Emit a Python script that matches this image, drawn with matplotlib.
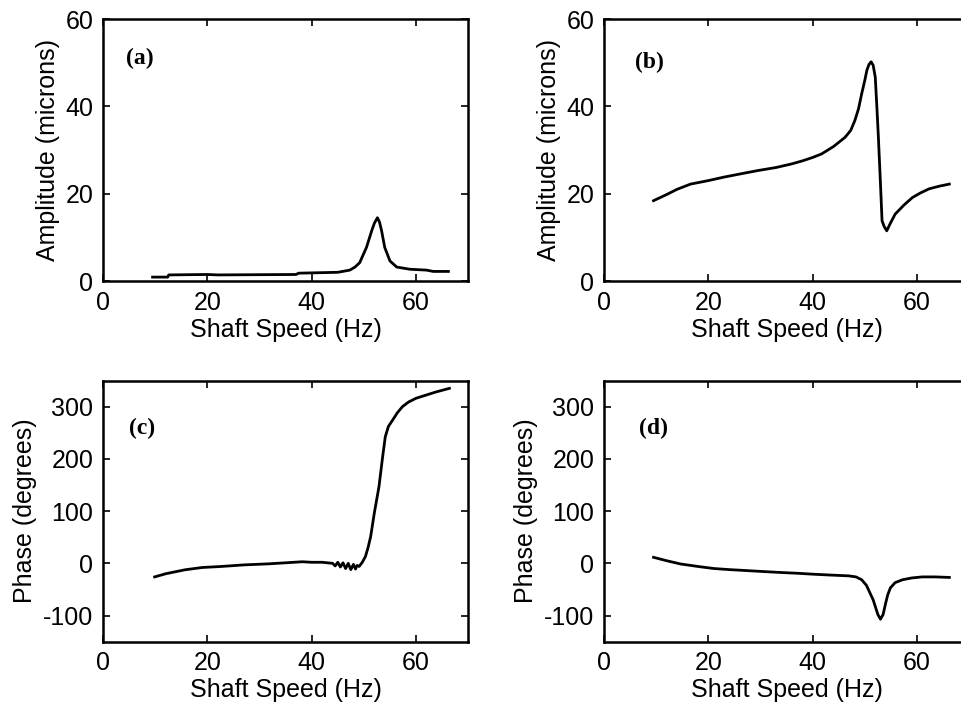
import matplotlib.pyplot as plt

# Shaft speed sweeps
a_speed = [9.5, 12.4, 12.6, 20, 22, 37, 37.5, 45, 47.3, 48.3, 49.2, 50.5, 51.5, 52.0,
           52.6, 53.0, 53.4, 54.0, 55.0, 56.3, 58.8, 62, 63.3, 66.2]
a_amp = [0.9, 0.9, 1.4, 1.5, 1.4, 1.5, 1.8, 2.0, 2.5, 3.2, 4.2, 7.7, 11.5, 13.2,
         14.5, 13.5, 11.5, 7.7, 4.6, 3.2, 2.7, 2.5, 2.2, 2.2]

b_speed = [9.5, 12, 14, 16.6, 20, 23, 26, 29.5, 33, 35.9, 38, 40, 41.7, 44, 46.2, 47.3,
           48.1, 48.8, 49.4, 50.0, 50.4, 50.8, 51.2, 51.6, 52.0, 52.3, 52.6, 53.0, 53.3,
           53.7, 54.2, 54.8, 55.8, 57.5, 59.1, 60.7, 62.3, 64.2, 66.2]
b_amp = [18.4, 19.8, 21.0, 22.2, 23.0, 23.8, 24.5, 25.3, 26.0, 26.8, 27.5, 28.3, 29.1,
         30.8, 32.9, 34.5, 36.8, 39.5, 42.9, 46.0, 48.3, 49.6, 50.2, 49.4, 46.7, 40,
         32.9, 22.2, 13.8, 12.5, 11.5, 13.0, 15.3, 17.4, 19.1, 20.2, 21.1, 21.7, 22.2]

c_speed = [9.9, 12, 15.7, 19, 22.7, 27, 31.7, 35, 38.2, 40, 42, 44, 44.5, 45, 45.5, 46,
           46.5, 47, 47.5, 48, 48.4, 48.7, 49.1, 49.7, 50.3, 50.8, 51.3, 52.0, 52.9, 53.6,
           54.1, 54.7, 55.5, 56.4, 57.4, 58.6, 60.0, 61.9, 63.8, 66.4]
c_phase = [-26, -20, -12.4, -8, -6, -3, -1, 1, 3, 2, 2, 0, -5, 2, -7, 1, -10, 0, -12, -2,
           -11, -4, -6, 2, 13, 30, 51, 96, 147, 204, 242, 262, 274, 288, 300, 309, 316,
           322, 328, 335]

d_speed = [9.5, 12, 14.7, 18, 21.1, 24, 27.5, 31, 34, 37, 40.4, 43.5, 46.9, 48.3, 49.4,
           50.3, 51.0, 51.6, 52.0, 52.5, 53.0, 53.5, 54.0, 54.4, 54.9, 55.8, 57.2, 59,
           61.0, 63.5, 66.2]
d_phase = [11.5, 5, -1.3, -6, -10, -12, -14, -16, -17.6, -19, -21, -22.5, -24, -26, -31.5,
           -42, -57, -70, -82.6, -98, -107, -98, -76, -60, -47, -37, -31.5, -28, -26, -26, -27]

panels = [
    ('(a)', a_speed, a_amp, 'amp', (4.5, 51)),
    ('(b)', b_speed, b_amp, 'amp', (6.0, 50)),
    ('(c)', c_speed, c_phase, 'phase', (5.0, 258)),
    ('(d)', d_speed, d_phase, 'phase', (6.7, 258)),
]

# axes boxes in figure fractions (right column runs past the edge as in the scan)
positions = [
    [0.1072, 0.6025, 0.380, 0.3706],
    [0.6285, 0.6025, 0.380, 0.3706],
    [0.1072, 0.0924, 0.380, 0.3694],
    [0.6285, 0.0924, 0.380, 0.3694],
]

plt.rcParams['font.family'] = ['Liberation Sans', 'DejaVu Sans']
plt.rcParams['axes.unicode_minus'] = False
fig = plt.figure(figsize=(9.61, 7.07), dpi=100)

for (tag, xs, ys, kind, lab_pos), pos in zip(panels, positions):
    ax = fig.add_axes(pos)
    ax.plot(xs, ys, color='black', linewidth=2.0)
    ax.set_xlim(0, 70)
    ax.set_xticks([0, 20, 40, 60])
    if kind == 'amp':
        ax.set_ylim(0, 60)
        ax.set_yticks([0, 20, 40, 60])
        ax.set_ylabel('Amplitude (microns)', fontsize=18, labelpad=4)
    else:
        ax.set_ylim(-150, 350)
        ax.set_yticks([-100, 0, 100, 200, 300])
        ax.set_ylabel('Phase (degrees)', fontsize=18, labelpad=4)
    ax.set_xlabel('Shaft Speed (Hz)', fontsize=18, labelpad=2)
    ax.tick_params(direction='in', top=True, right=True, length=5, width=1.2,
                   labelsize=18, pad=7)
    for sp in ax.spines.values():
        sp.set_linewidth(1.8)
    ax.text(lab_pos[0], lab_pos[1], tag, family='Liberation Serif', fontsize=17,
            fontweight='bold', ha='left', va='center')

fig.savefig('out.png', dpi=100)
